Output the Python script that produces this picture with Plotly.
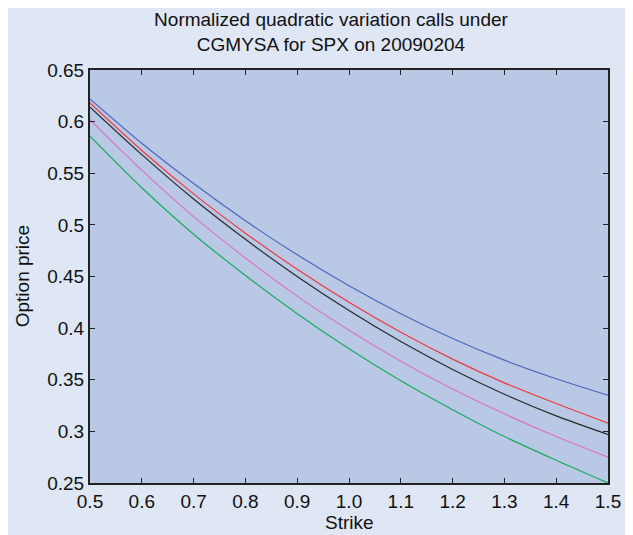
import plotly.graph_objects as go

strikes = [0.5, 0.6, 0.7, 0.8, 0.9, 1.0, 1.1, 1.2, 1.3, 1.4, 1.5]
blue_vals = [0.622, 0.579, 0.540, 0.504, 0.471, 0.441, 0.414, 0.390, 0.369, 0.351, 0.335]
red_vals = [0.618, 0.572, 0.530, 0.492, 0.457, 0.425, 0.396, 0.370, 0.347, 0.327, 0.308]
black_vals = [0.614, 0.568, 0.525, 0.486, 0.450, 0.417, 0.387, 0.360, 0.336, 0.315, 0.297]
magenta_vals = [0.602, 0.553, 0.508, 0.468, 0.431, 0.398, 0.368, 0.341, 0.317, 0.295, 0.275]
green_vals = [0.586, 0.536, 0.491, 0.451, 0.414, 0.380, 0.349, 0.321, 0.295, 0.272, 0.250]

x_ticks = [0.5, 0.6, 0.7, 0.8, 0.9, 1.0, 1.1, 1.2, 1.3, 1.4, 1.5]
x_ticktext = ["0.5", "0.6", "0.7", "0.8", "0.9", "1.0", "1.1", "1.2", "1.3", "1.4", "1.5"]
y_ticks = [0.25, 0.3, 0.35, 0.4, 0.45, 0.5, 0.55, 0.6, 0.65]
y_ticktext = ["0.25", "0.3", "0.35", "0.4", "0.45", "0.5", "0.55", "0.6", "0.65"]

series = [
    (blue_vals, "#4a68c0"),
    (red_vals, "#ee3a3e"),
    (black_vals, "#2a2a2a"),
    (magenta_vals, "#d873c6"),
    (green_vals, "#17ab62"),
]

FONT = "Liberation Sans, Arial, sans-serif"
# page body adds an 8px offset; figure covers the rest of the window
OFF = 8
W, H = 633 - OFF, 535 - OFF
L = 90 - OFF
T = 70 - OFF
R = W - (614 - OFF)
B = H - (483 - OFF)
pw, ph = W - L - R, H - T - B

fig = go.Figure()
for vals, col in series:
    fig.add_trace(go.Scatter(x=strikes, y=vals, mode="lines",
                             line=dict(color=col, width=1.2, shape="spline", smoothing=0.8),
                             showlegend=False, hoverinfo="skip"))

axis_common = dict(showline=True, linecolor="#222222", linewidth=2, mirror="ticks",
                   ticks="inside", ticklen=5, tickwidth=1, tickcolor="#222222",
                   showgrid=False, zeroline=False,
                   tickfont=dict(family=FONT, size=19, color="#111111"))

fig.update_xaxes(range=[0.5, 1.5], tickvals=x_ticks, ticktext=x_ticktext, **axis_common)
fig.update_yaxes(range=[0.25, 0.65], tickvals=y_ticks, ticktext=y_ticktext, **axis_common)


def px_x(p):
    return (p - OFF - L) / pw


def px_y(p):
    return (H - B - (p - OFF)) / ph


fig.update_layout(
    width=W, height=H,
    margin=dict(l=L, r=R, t=T, b=B, pad=0),
    paper_bgcolor="#dfe6f4",
    plot_bgcolor="#b9c8e4",
    font=dict(family=FONT, size=19, color="#111111"),
    title=dict(text="Normalized quadratic variation calls under<br>CGMYSA for SPX on 20090204",
               x=(331 - OFF) / W, xref="container", xanchor="center",
               y=1 - 18 / H, yref="container", yanchor="top",
               font=dict(family=FONT, size=19, color="#111111")),
    annotations=[
        dict(text="Strike", xref="paper", yref="paper", x=0.5, y=px_y(522),
             xanchor="center", yanchor="middle", showarrow=False,
             font=dict(family=FONT, size=19, color="#111111")),
        dict(text="Option price", xref="paper", yref="paper", x=px_x(22), y=0.5,
             xanchor="center", yanchor="middle", showarrow=False, textangle=-90,
             font=dict(family=FONT, size=19, color="#111111")),
    ],
)

fig.write_html("out.html")
